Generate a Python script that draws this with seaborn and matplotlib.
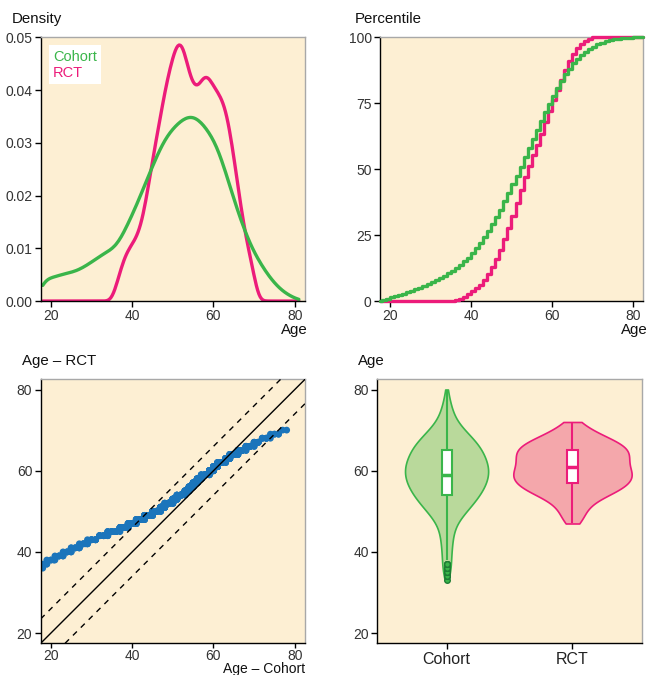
import numpy as np
import pandas as pd
import matplotlib
matplotlib.use("Agg")
import matplotlib.pyplot as plt
import matplotlib.ticker as ticker
import seaborn as sns
from matplotlib.lines import Line2D

# ---- data ----
groups = ["Cohort", "RCT"]

# age distribution used for density / ECDF / QQ panels (counts per year of age)
cohort_ages = list(range(18, 82))
cohort_counts = [50, 42, 42, 45, 48, 50, 52, 53, 55, 58,
                 63, 67, 72, 78, 83, 88, 92, 96, 100, 112,
                 128, 144, 160, 176, 195, 214, 233, 250, 268, 287,
                 300, 312, 321, 328, 336, 341, 344, 345, 340, 333,
                 324, 312, 302, 287, 263, 240, 215, 190, 165, 145,
                 124, 105, 90, 77, 64, 53, 42, 33, 25, 18,
                 13, 9, 5, 2]
rct_ages = list(range(36, 71))
rct_counts = [25, 55, 80, 96, 106, 117, 135, 168, 215, 262,
              305, 345, 390, 425, 455, 482, 490, 462, 425, 400,
              394, 410, 426, 416, 400, 390, 378, 360, 320, 270,
              215, 160, 118, 83, 50]

# age distribution shown in the violin panel
violin_cohort_ages = list(range(33, 81))
violin_cohort_counts = [1, 3, 4, 4, 4, 4, 4, 4, 5, 5,
                        5, 6, 6, 7, 8, 11, 14, 18, 21, 24,
                        27, 30, 32, 34, 36, 37, 38, 38, 38, 37,
                        35, 32, 33, 31, 27, 23, 20, 17, 11, 9,
                        7, 6, 5, 4, 3, 2, 2, 1]
violin_rct_ages = list(range(47, 73))
violin_rct_counts = [4, 4, 5, 5, 6, 8, 10, 14, 19, 21,
                     23, 24, 25, 23, 22, 22, 22, 23, 23, 22,
                     19, 15, 11, 7, 5, 4]

qq_band = 6  # dashed lines: identity +/- this many years

# ---- style ----
line_colors = {"Cohort": "#3ab54a", "RCT": "#ec1c7a"}
violin_fill = {"Cohort": "#b9d99b", "RCT": "#f4a7ab"}
violin_width = {"Cohort": 0.66, "RCT": 0.94}
bg = "#fdefd3"
qq_color = "#1b75bb"

sns.set_theme(style="ticks")
plt.rcParams["font.family"] = ["Liberation Sans", "DejaVu Sans"]

df = pd.DataFrame({
    "group": ["Cohort"] * len(cohort_ages) + ["RCT"] * len(rct_ages),
    "age": cohort_ages + rct_ages,
    "count": cohort_counts + rct_counts,
})

fig = plt.figure(figsize=(6.49, 6.75), dpi=100)
ax1 = fig.add_axes([0.0627, 0.554, 0.4072, 0.3907])
ax2 = fig.add_axes([0.5855, 0.554, 0.4052, 0.3907])
ax3 = fig.add_axes([0.0627, 0.047, 0.4072, 0.391])
ax4 = fig.add_axes([0.5814, 0.047, 0.4074, 0.391])


def style_axes(ax):
    ax.set_facecolor(bg)
    for side in ["top", "right"]:
        ax.spines[side].set_color("#a8a8a8")
    for side in ["left", "bottom"]:
        ax.spines[side].set_color("black")
    for s in ax.spines.values():
        s.set_linewidth(1)
    ax.tick_params(length=4, width=1, colors="black", labelcolor="#333333",
                   labelsize=10, pad=2)
    ax.set_xlabel("")
    ax.set_ylabel("")


# density
sns.kdeplot(data=df, x="age", weights="count", hue="group", hue_order=groups,
            palette=line_colors, common_norm=False, common_grid=True, cut=0,
            bw_adjust=0.25, linewidth=2.4, legend=False, ax=ax1)
style_axes(ax1)
ax1.set_xlim(17.5, 82.5)
ax1.set_ylim(0, 0.05)
ax1.set_xticks([20, 40, 60, 80])
ax1.set_yticks([0, 0.01, 0.02, 0.03, 0.04, 0.05])
ax1.yaxis.set_major_formatter(ticker.FormatStrFormatter("%.2f"))
handles = [Line2D([], [], color=line_colors[g]) for g in groups]
leg = ax1.legend(handles, groups, loc="upper left", handlelength=0,
                 handletextpad=0, labelcolor="linecolor", fontsize=10.5,
                 frameon=True, fancybox=False, framealpha=1,
                 borderaxespad=0.55, borderpad=0.3, labelspacing=0.15)
leg.get_frame().set_edgecolor("none")

# ECDF
sns.ecdfplot(data=df, x="age", weights="count", hue="group", hue_order=groups,
             palette=line_colors, stat="percent", linewidth=2.4, legend=False,
             ax=ax2)
style_axes(ax2)
ax2.set_xlim(17.5, 82.5)
ax2.set_ylim(0, 100)
for ln in ax2.lines:
    xs, ys = ln.get_data()
    xs = np.asarray(xs, dtype=float)
    ys = np.asarray(ys, dtype=float)
    keep = np.isfinite(xs)
    xs = np.r_[17.5, xs[keep], 82.5]
    ys = np.r_[0, ys[keep], ys[keep][-1]]
    ln.set_data(xs, ys)
    ln.set_clip_on(False)
    ln.set_zorder(3)
ax2.set_xticks([20, 40, 60, 80])
ax2.set_yticks([0, 25, 50, 75, 100])

# QQ
cohort_sample = np.repeat(cohort_ages, cohort_counts)
rct_sample = np.repeat(rct_ages, rct_counts)
probs = np.linspace(0.002, 0.998, 600)
qq = pd.DataFrame({"cohort": np.quantile(cohort_sample, probs),
                   "rct": np.quantile(rct_sample, probs)})
sns.scatterplot(data=qq, x="cohort", y="rct", s=24, color=qq_color,
                edgecolor="none", ax=ax3, zorder=2)
ax3.axline((20, 20), slope=1, color="black", lw=1, zorder=3)
for off in (qq_band, -qq_band):
    ax3.axline((20, 20 + off), slope=1, color="black", lw=1,
               ls=(0, (4, 4)), zorder=3)
style_axes(ax3)
ax3.tick_params(axis="x", pad=0.5, length=3.5)
ax3.set_xlim(17.5, 82.5)
ax3.set_ylim(17.5, 82.5)
ax3.set_xticks([20, 40, 60, 80])
ax3.set_yticks([20, 40, 60, 80])

# violin + box
vdf = pd.DataFrame({
    "group": ["Cohort"] * sum(violin_cohort_counts) + ["RCT"] * sum(violin_rct_counts),
    "age": np.r_[np.repeat(violin_cohort_ages, violin_cohort_counts),
                 np.repeat(violin_rct_ages, violin_rct_counts)],
})
for g in groups:
    sub = vdf[vdf["group"] == g]
    sns.violinplot(data=sub, x="group", y="age", order=groups,
                   color=violin_fill[g], linecolor=line_colors[g], linewidth=1.2,
                   inner=None, cut=0, width=violin_width[g], saturation=1,
                   ax=ax4)
    sns.boxplot(data=sub, x="group", y="age", order=groups, color="white",
                linecolor=line_colors[g], linewidth=1.5, width=0.08,
                saturation=1, showcaps=False, fliersize=4,
                flierprops=dict(marker="o", markerfacecolor=line_colors[g],
                                markeredgecolor="#1e7d34"),
                medianprops=dict(linewidth=2.5), ax=ax4)
style_axes(ax4)
ax4.set_xlim(-0.55, 1.55)
ax4.set_ylim(17.5, 82.5)
ax4.set_yticks([20, 40, 60, 80])
ax4.tick_params(axis="x", labelsize=11.5, labelcolor="#222222")

# axis titles
ttl = dict(fontsize=10.8, color="#111111", va="center", ha="left")
fig.text(12 / 649, 1 - 19 / 675, "Density", **ttl)
fig.text(355 / 649, 1 - 19 / 675, "Percentile", **ttl)
fig.text(22 / 649, 1 - 361 / 675, "Age \u2013 RCT", **ttl)
fig.text(358 / 649, 1 - 361 / 675, "Age", **ttl)

xl = dict(fontsize=10.8, color="#111111", va="center", ha="right")
fig.text(308 / 649, 1 - 330 / 675, "Age", **xl)
fig.text(648 / 649, 1 - 330 / 675, "Age", **xl)
fig.text(305 / 649, 1 - 672.5 / 675, "Age \u2013 Cohort", fontsize=10,
         color="#111111", va="baseline", ha="right")

fig.savefig("out.png", dpi=100)
